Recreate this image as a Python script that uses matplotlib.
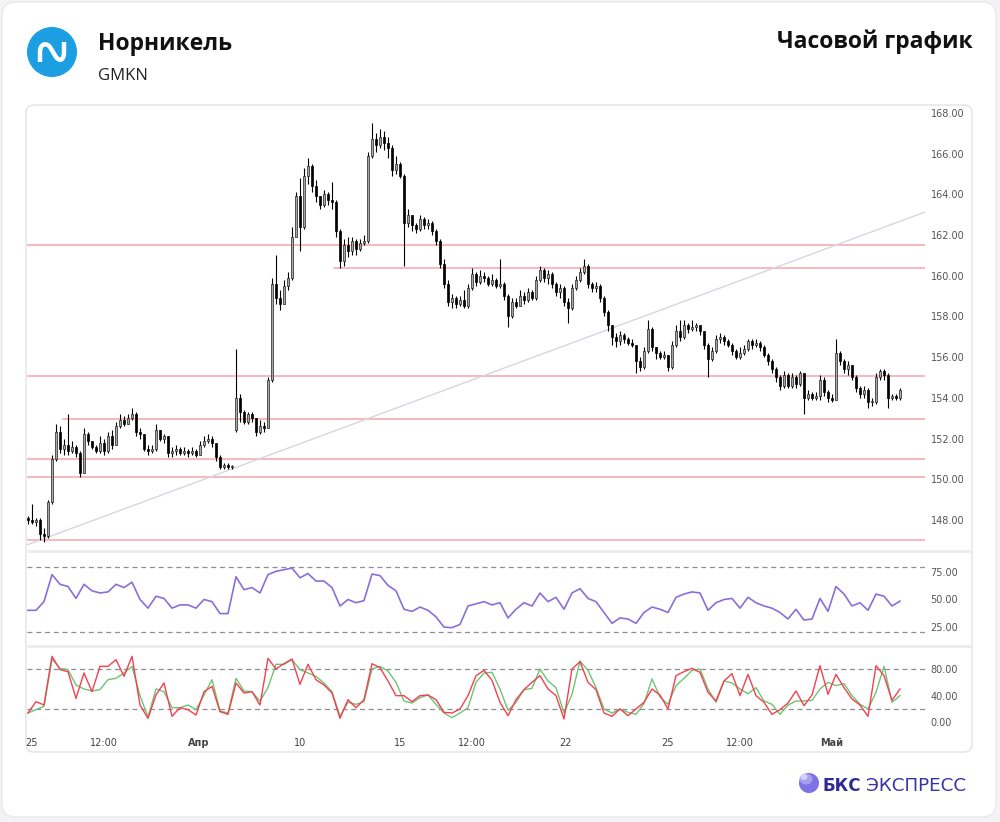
import numpy as np
import matplotlib.pyplot as plt
from matplotlib.patches import FancyBboxPatch, Circle, Ellipse, PathPatch
from matplotlib.path import Path

W, H = 1000, 822

# hourly candles, GMKN
closes = [
    148.0, 147.9, 148.0, 147.3, 147.2, 148.9, 151.0, 152.3, 151.5, 151.7,
    151.4, 151.6, 151.3, 150.3, 152.2, 151.9, 151.6, 151.4, 151.8, 151.4,
    152.1, 151.7, 152.6, 152.9, 152.7, 153.0, 153.2, 152.3, 152.2, 151.5,
    151.4, 151.5, 152.4, 152.0, 152.1, 151.3, 151.4, 151.5, 151.3, 151.4,
    151.3, 151.4, 151.2, 151.7, 151.9, 152.0, 151.8, 151.1, 150.6, 150.7,
    150.6, 150.6, 154.0, 153.3, 152.8, 153.2, 153.0, 152.3, 152.6, 152.5,
    154.9, 159.6, 158.9, 158.6, 159.5, 159.9, 161.9, 163.9, 162.4, 164.9,
    165.4, 164.4, 163.9, 163.5, 164.0, 163.7, 163.6, 162.2, 160.7, 161.5,
    161.2, 161.7, 161.3, 161.6, 161.7, 165.9, 166.7, 166.4, 166.8, 166.5,
    166.3, 165.2, 165.5, 164.9, 162.6, 163.0, 162.5, 162.3, 162.8, 162.5,
    162.6, 162.2, 161.7, 160.6, 159.6, 158.7, 158.9, 158.6, 158.8, 158.5,
    159.4, 160.1, 159.7, 160.0, 159.9, 159.6, 159.8, 159.5, 159.6, 159.0,
    158.0, 158.7, 158.5, 159.0, 158.8, 159.2, 158.9, 159.8, 160.3, 159.9,
    160.1, 159.6, 159.2, 159.4, 158.7, 158.4, 159.4, 159.8, 160.2, 160.5,
    159.6, 159.4, 159.5, 158.9, 158.2, 157.6, 157.0, 156.8, 157.1, 156.9,
    156.7, 156.6, 155.8, 155.5, 156.3, 157.4, 156.5, 156.2, 156.0, 156.1,
    155.5, 156.6, 157.3, 157.0, 157.6, 157.4, 157.5, 157.6, 157.3, 156.6,
    155.9, 156.3, 156.9, 157.0, 156.8, 156.6, 156.3, 156.0, 156.2, 156.4,
    156.8, 156.6, 156.7, 156.5, 156.1, 155.8, 155.4, 155.0, 154.6, 155.1,
    154.6, 155.0, 154.7, 155.2, 154.0, 154.2, 154.0, 154.1, 154.9, 154.3,
    154.0, 153.9, 156.2, 155.8, 155.4, 155.6, 155.0, 154.5, 154.2, 154.4,
    153.8, 153.8, 155.0, 155.3, 155.1, 154.0, 154.1, 154.0, 154.4,
]
highs = [
    148.2, 148.8, 148.1, 148.1, 147.6, 149.0, 151.2, 152.7, 152.6, 152.0,
    153.2, 151.9, 151.7, 151.4, 152.5, 152.3, 151.9, 151.7, 152.1, 152.0,
    152.3, 152.4, 152.8, 153.2, 153.1, 153.2, 153.5, 153.3, 152.5, 152.2,
    151.7, 151.7, 152.7, 152.4, 152.2, 152.1, 151.6, 151.7, 151.6, 151.6,
    151.5, 151.6, 151.5, 151.9, 152.1, 152.2, 152.1, 151.8, 151.2, 150.8,
    150.8, 150.7, 156.4, 154.2, 153.4, 153.3, 153.3, 153.0, 152.9, 152.8,
    155.0, 159.9, 161.0, 159.3, 159.8, 160.2, 162.4, 164.1, 164.8, 165.3,
    165.8, 165.5, 164.7, 163.9, 164.2, 164.1, 164.6, 163.7, 162.3, 161.8,
    161.9, 161.9, 161.8, 161.8, 162.0, 166.1, 167.5, 167.0, 167.2, 167.1,
    166.8, 166.4, 165.9, 165.6, 165.0, 163.3, 163.0, 162.6, 163.0, 162.9,
    162.8, 162.7, 162.3, 161.8, 160.8, 159.8, 159.1, 159.0, 159.0, 159.3,
    159.6, 160.4, 160.2, 160.3, 160.2, 160.0, 160.1, 159.9, 160.8, 159.7,
    159.1, 158.9, 158.9, 159.3, 159.2, 159.4, 159.3, 160.0, 160.5, 160.4,
    160.3, 160.2, 159.7, 159.6, 159.5, 158.9, 159.6, 160.0, 160.4, 160.8,
    160.6, 159.7, 159.7, 159.6, 159.0, 158.3, 157.6, 157.2, 157.3, 157.2,
    157.0, 156.9, 156.6, 156.0, 156.5, 157.8, 157.5, 156.5, 156.3, 156.3,
    156.1, 156.8, 157.6, 157.8, 157.8, 157.7, 157.8, 157.7, 157.6, 157.3,
    156.7, 156.5, 157.1, 157.2, 157.1, 156.9, 156.7, 156.4, 156.5, 156.6,
    156.9, 156.9, 156.9, 156.8, 156.6, 156.2, 155.9, 155.5, 155.1, 155.3,
    155.2, 155.2, 155.1, 155.3, 155.2, 154.4, 154.3, 154.3, 155.1, 155.0,
    154.4, 154.2, 156.9, 156.3, 155.9, 155.8, 155.6, 155.1, 154.6, 154.6,
    154.5, 154.0, 155.2, 155.4, 155.4, 155.2, 154.2, 154.2, 154.5,
]
lows = [
    147.8, 147.8, 147.7, 147.0, 146.9, 147.1, 148.8, 150.9, 151.3, 151.2,
    151.2, 151.3, 151.1, 150.1, 150.4, 151.7, 151.5, 151.3, 151.3, 151.2,
    151.3, 151.5, 151.7, 152.5, 152.6, 152.7, 152.9, 152.1, 152.0, 151.4,
    151.2, 151.3, 151.4, 151.9, 151.8, 151.1, 151.1, 151.2, 151.2, 151.2,
    151.1, 151.2, 151.1, 151.2, 151.6, 151.8, 151.6, 150.9, 150.5, 150.5,
    150.5, 150.5, 152.3, 152.8, 152.7, 152.7, 152.8, 152.1, 152.2, 152.3,
    152.5, 154.8, 158.6, 158.3, 158.6, 159.3, 159.8, 161.9, 161.2, 162.3,
    164.5, 164.1, 163.6, 163.3, 163.4, 163.5, 163.3, 161.9, 160.4, 160.5,
    160.9, 161.0, 161.0, 161.2, 161.5, 161.6, 165.8, 166.1, 166.3, 166.2,
    165.8, 164.9, 165.0, 164.8, 160.5, 162.4, 162.2, 162.1, 162.2, 162.3,
    162.3, 162.0, 161.5, 160.4, 159.4, 158.5, 158.4, 158.4, 158.5, 158.4,
    158.4, 159.3, 159.5, 159.6, 159.7, 159.5, 159.5, 159.4, 159.4, 158.8,
    157.5, 157.9, 158.4, 158.5, 158.6, 158.7, 158.8, 158.8, 159.7, 159.7,
    159.6, 159.4, 159.0, 158.9, 158.5, 157.7, 158.3, 159.3, 159.7, 160.1,
    159.4, 159.2, 159.2, 158.7, 158.0, 157.3, 156.6, 156.5, 156.6, 156.7,
    156.6, 156.5, 155.2, 155.3, 155.4, 156.2, 156.3, 155.9, 155.9, 155.9,
    155.3, 155.4, 156.5, 156.8, 156.9, 157.2, 157.3, 157.3, 157.1, 156.4,
    155.0, 155.8, 156.2, 156.7, 156.6, 156.5, 156.1, 155.9, 155.9, 156.1,
    156.3, 156.4, 156.5, 156.3, 156.0, 155.6, 155.2, 154.8, 154.4, 154.5,
    154.5, 154.5, 154.5, 154.6, 153.2, 153.9, 153.9, 153.9, 153.9, 154.1,
    153.8, 153.8, 153.9, 155.6, 155.2, 155.1, 154.9, 154.3, 154.0, 154.0,
    153.5, 153.6, 153.7, 154.9, 154.9, 153.5, 153.9, 153.9, 153.9,
]
first_open = 148.1
gap_opens = {52: 152.4}  # session gap

# indicators, one reading every second candle
ind_step = 2
rsi = [
    40, 40, 48, 73, 64, 62, 51, 64, 58, 56,
    57, 64, 61, 66, 50, 42, 53, 51, 42, 45,
    45, 42, 50, 48, 37, 37, 71, 59, 61, 56,
    73, 76, 77.5, 79, 70, 74, 67, 67, 61, 44,
    50, 47, 49, 73.5, 72, 63, 58, 41, 39, 43,
    40, 34, 24.5, 24, 27, 44, 46, 48, 45, 47,
    33, 41, 47, 44, 56, 48, 52, 41, 56, 60,
    51, 48, 38, 28, 33, 32, 28, 38, 43, 41,
    38, 52, 55, 57, 56, 40, 47, 50, 51, 42,
    52, 47, 44, 42, 38, 32, 41, 31, 32, 51,
    39, 62, 55, 44, 47, 40, 55, 53, 44, 48.5,
]
stoch_k = [
    14, 31, 26, 99, 79, 76, 36, 74, 46, 84,
    84, 94, 69, 99, 26, 6, 41, 59, 9, 22,
    19, 11, 46, 54, 16, 12, 59, 44, 46, 26,
    96, 80, 88, 95, 57, 87, 64, 56, 44, 6,
    34, 22, 34, 88, 82, 62, 40, 40, 31, 40,
    41, 34, 15, 14, 20, 40, 70, 78, 63, 30,
    10, 34, 49, 60, 70, 50, 40, 5, 80, 91,
    60, 49, 14, 9, 20, 10, 20, 30, 50, 41,
    20, 70, 76, 81, 75, 45, 32, 62, 73, 40,
    72, 40, 30, 12, 19, 29, 47, 25, 41, 85,
    42, 72, 52, 35, 26, 9, 85, 70, 33, 50,
]
stoch_d = [
    14, 19, 24, 95, 81, 79, 56, 50, 47, 49,
    64, 66, 74, 84, 40, 8, 50, 46, 22, 22,
    26, 19, 41, 64, 17, 14, 66, 47, 46, 32,
    52, 87, 87, 94, 79, 74, 69, 59, 46, 9,
    30, 27, 31, 80, 84, 77, 60, 32, 29, 37,
    41, 27, 14, 7, 14, 22, 60, 74, 75, 50,
    18, 30, 49, 51, 80, 62, 52, 14, 42, 92,
    78, 52, 20, 14, 20, 15, 12, 28, 65, 38,
    27, 55, 66, 78, 80, 50, 30, 62, 59, 50,
    43, 52, 32, 27, 12, 26, 32, 32, 33, 50,
    60, 55, 58, 40, 27, 20, 45, 84, 30, 40,
]

# horizontal levels: price, first candle
levels = [(161.5, None), (160.38, 76.5), (155.08, None), (152.96, 8.75),
          (151.0, None), (150.11, None), (147.02, None)]
trend = [(-0.25, 146.77), (224.25, 163.13)]

tick_pos = [1, 19, 42.75, 68, 93, 111, 134.5, 159.75, 178, 201]
tick_lbl = ['25', '12:00', 'Апр', '10', '15', '12:00', '22', '25', '12:00', 'Май']

XLIM = (-0.25, 224.25)


def box(top, bottom, left=27, right=925):
    return [left / W, 1 - bottom / H, (right - left) / W, (bottom - top) / H]


def style_panel(ax, ticks, fmt):
    for s in ax.spines.values():
        s.set_visible(False)
    ax.set_facecolor('none')
    ax.set_xlim(*XLIM)
    ax.yaxis.tick_right()
    ax.set_yticks(ticks)
    ax.set_yticklabels([fmt % t for t in ticks])
    ax.tick_params(axis='y', length=0, pad=4, labelsize=7, labelcolor='#555555')
    ax.set_xticks([])


fig = plt.figure(figsize=(W / 100, H / 100), dpi=100)
fig.patch.set_facecolor('#f3f3f5')

bg = fig.add_axes([0, 0, 1, 1], zorder=0)
bg.set_xlim(0, W)
bg.set_ylim(H, 0)
bg.axis('off')
bg.add_patch(FancyBboxPatch((2, 2), 994, 815, boxstyle='round,pad=0,rounding_size=14',
                            fc='white', ec='#e9e9ec', lw=1))
bg.add_patch(FancyBboxPatch((26, 105), 946, 647, boxstyle='round,pad=0,rounding_size=8',
                            fc='white', ec='#e3e3e7', lw=1))
for yy in (551, 646):
    bg.plot([26.5, 971.5], [yy, yy], color='#ececf0', lw=2, solid_capstyle='butt')

# header
bg.add_patch(Circle((52, 52), 25, fc='#1c9fe2', ec='none'))
glyph = Path([(40, 62), (40, 52), (40, 44), (46, 42), (50, 47), (56, 57),
              (60, 62), (64, 60), (64, 52), (64, 42)],
             [Path.MOVETO, Path.LINETO, Path.CURVE4, Path.CURVE4, Path.CURVE4,
              Path.LINETO, Path.CURVE4, Path.CURVE4, Path.CURVE4, Path.LINETO])
bg.add_patch(PathPatch(glyph, fc='none', ec='white', lw=3.2, capstyle='butt'))
bg.text(98, 50, 'Норникель', fontsize=16.5, fontweight='bold', family='Open Sans',
        color='#111111', va='baseline', ha='left')
bg.text(98, 80, 'GMKN', fontsize=12, family='Open Sans', color='#222222',
        va='baseline', ha='left')
bg.text(973, 48, 'Часовой график', fontsize=16.5, fontweight='bold', family='Open Sans',
        color='#111111', va='baseline', ha='right')

# footer logo
bg.add_patch(Circle((809, 783), 10, fc='#7f72e3', ec='none'))
bg.add_patch(Ellipse((806, 779), 13, 11, fc='#a79ff0', ec='none'))
bg.add_patch(Ellipse((804, 777), 7, 6, fc='#d4d0fa', ec='none'))
bg.text(823, 791, 'БКС', fontsize=12, fontweight='bold', family='DejaVu Sans',
        color='#2f2a96', va='baseline', ha='left')
bg.text(866, 791, 'ЭКСПРЕСС', fontsize=13.2, family='DejaVu Sans',
        color='#3a33a6', va='baseline', ha='left')

# price panel
ax = fig.add_axes(box(105, 548), zorder=1)
style_panel(ax, np.arange(148, 169, 2), '%.2f')
ax.set_ylim(146.62, 168.39)

c = np.array(closes)
o = np.array([first_open] + closes[:-1])
for k, v in gap_opens.items():
    o[k] = v
h = np.maximum(np.array(highs), np.maximum(o, c))
l = np.minimum(np.array(lows), np.minimum(o, c))
x = np.arange(len(c))

for lev, start in levels:
    x0 = XLIM[0] if start is None else start
    ax.plot([x0, XLIM[1]], [lev, lev], color='#f6a3aa', lw=1.1, zorder=1)
ax.plot([p[0] for p in trend], [p[1] for p in trend], color='#d6d6e0', lw=1, zorder=1)

ax.vlines(x, l, h, color='black', lw=0.8, zorder=2)
up = c >= o
body = np.maximum(np.abs(c - o), 0.04)
ax.bar(x[up], body[up], bottom=np.minimum(o, c)[up], width=0.6,
       color='#a8a8a8', edgecolor='#222222', lw=0.5, zorder=3)
ax.bar(x[~up], body[~up], bottom=np.minimum(o, c)[~up], width=0.6,
       color='black', edgecolor='black', lw=0.5, zorder=3)

xi = np.arange(len(rsi)) * ind_step

# RSI panel
ax2 = fig.add_axes(box(553, 645), zorder=1)
style_panel(ax2, [25, 50, 75], '%.2f')
ax2.set_ylim(8.0, 92.9)
for lv in (80, 20):
    ax2.axhline(lv, color='#8d8d95', lw=0.9, ls=(0, (4, 3)))
ax2.plot(xi, rsi, color='#8a6fd9', lw=1.2)

# stochastic panel
ax3 = fig.add_axes(box(648, 735), zorder=1)
style_panel(ax3, [0, 40, 80], '%.2f')
ax3.set_ylim(-19, 111.5)
for lv in (80, 20):
    ax3.axhline(lv, color='#8d8d95', lw=0.9, ls=(0, (4, 3)))
ax3.plot(xi, stoch_d, color='#6cc474', lw=1.0)
ax3.plot(xi, stoch_k, color='#f5404f', lw=1.0)
ax3.set_xticks(tick_pos)
ax3.set_xticklabels(tick_lbl)
ax3.tick_params(axis='x', length=0, pad=2, labelsize=7, labelcolor='#444444')
for lb in ax3.get_xticklabels():
    if lb.get_text() in ('Апр', 'Май'):
        lb.set_fontweight('bold')

fig.savefig('out.png', dpi=100, facecolor=fig.get_facecolor())
